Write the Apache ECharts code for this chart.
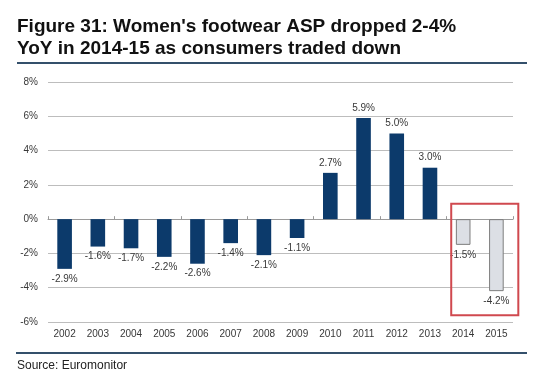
<!DOCTYPE html>
<html>
<head>
<meta charset="utf-8">
<script src="https://cdn.jsdelivr.net/npm/echarts@6/dist/echarts.min.js"></script>
<style>html,body{margin:0;padding:0;background:#fff}#c{width:549px;height:381px}</style>
</head>
<body>
<div id="c"></div>
<script>
const categories = ['2002','2003','2004','2005','2006','2007','2008','2009','2010','2011','2012','2013','2014','2015'];
const values = [-2.9,-1.6,-1.7,-2.2,-2.6,-1.4,-2.1,-1.1,2.7,5.9,5.0,3.0,-1.5,-4.2];
const highlighted = ['2014','2015'];
const yTicks = [-6,-4,-2,0,2,4,6,8];
const boxRange = [0.9, -5.6];

const chart = echarts.init(document.getElementById('c'), null, {renderer:'canvas'});
const FONT = 'Liberation Sans, Arial, sans-serif';

const data = values.map((v, i) => {
  const hl = highlighted.includes(categories[i]);
  return {
    value: v,
    itemStyle: hl ? {color:'#dcdfe5', borderColor:'#7d7d7d', borderWidth:1} : {color:'#0c3a6b'},
    label: {position: v >= 0 ? 'top' : 'bottom'}
  };
});

const staticGraphics = [
  {type:'text', left:17, top:16, style:{text:"Figure 31: Women's footwear ASP dropped 2-4%\nYoY in 2014-15 as consumers traded down", font:'bold 19px '+FONT, fill:'#111', lineHeight:22}},
  {type:'line', shape:{x1:17, y1:63, x2:527, y2:63}, style:{stroke:'#34506b', lineWidth:2}},
  {type:'line', shape:{x1:16, y1:353, x2:527, y2:353}, style:{stroke:'#34506b', lineWidth:2}},
  {type:'text', left:17, top:360, style:{text:'Source: Euromonitor', font:'12px '+FONT, fill:'#222'}}
];

chart.setOption({
  animation: false,
  textStyle: {fontFamily: FONT},
  grid: {left:48, right:36, top:82, bottom:59},
  xAxis: [{
    type:'category', data: categories, position:'bottom',
    axisLine:{show:false, onZero:false}, axisTick:{show:false},
    axisLabel:{color:'#383838', fontSize:10, margin:7, fontFamily:FONT}
  },{
    type:'category', data: categories, position:'bottom',
    axisLine:{show:true, onZero:true, lineStyle:{color:'#9a9a9a', width:1}},
    axisTick:{show:true, inside:true, length:3, lineStyle:{color:'#9a9a9a'}},
    axisLabel:{show:false}
  }],
  yAxis: {
    type:'value', min:yTicks[0], max:yTicks[yTicks.length-1], interval:2,
    axisLine:{show:false}, axisTick:{show:false},
    axisLabel:{color:'#383838', fontSize:10, margin:10, formatter: v => v + '%', fontFamily:FONT},
    splitLine:{lineStyle:{color:'#bdbdbd', width:1}}
  },
  series: [{
    type:'bar', xAxisIndex:0, data: data, barWidth:'44%',
    label:{show:true, fontSize:10, color:'#383838', distance:5, fontFamily:FONT,
      formatter: p => p.value.toFixed(1) + '%'}
  }],
  graphic: staticGraphics
});

// red highlight box around the highlighted categories
const p1 = chart.convertToPixel({xAxisIndex:0, yAxisIndex:0}, [highlighted[0], boxRange[0]]);
const p2 = chart.convertToPixel({xAxisIndex:0, yAxisIndex:0}, [highlighted[1], boxRange[1]]);
const band = p2[0] - p1[0];
const x1 = p1[0] - 0.36*band, x2 = p2[0] + 0.66*band;
chart.setOption({graphic: staticGraphics.concat([
  {type:'rect', shape:{x:x1, y:p1[1], width:x2-x1, height:p2[1]-p1[1]}, style:{fill:'none', stroke:'#d0494f', lineWidth:2}, z:10}
])}, {replaceMerge:['graphic']});
</script>
</body>
</html>
